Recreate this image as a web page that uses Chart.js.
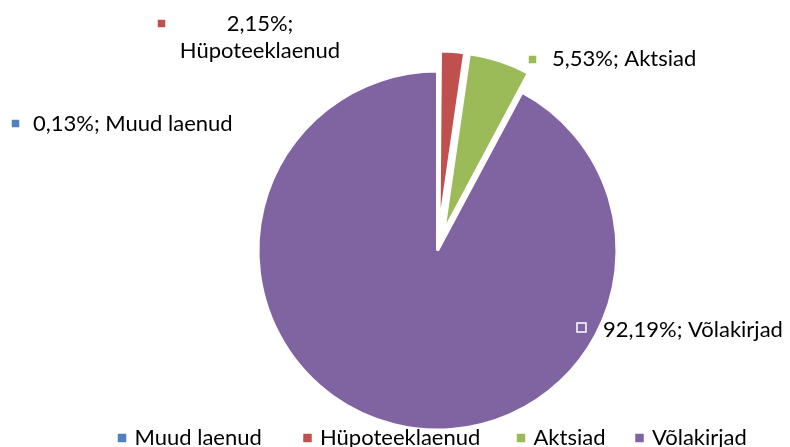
<!DOCTYPE html>
<html><head><meta charset="utf-8">
<script src="https://cdn.jsdelivr.net/npm/chart.js@4.4.1/dist/chart.umd.min.js"></script>
<style>html,body{margin:0;padding:0;background:#fff}</style>
</head><body>
<canvas id="c" width="790" height="447"></canvas>
<script>
// ---- data ----
const categories = ['Muud laenud', 'Hüpoteeklaenud', 'Aktsiad', 'Võlakirjad'];
const shares = [0.13, 2.15, 5.53, 92.19];
const colors = ['#4F81BD', '#C0504D', '#9BBB59', '#8064A2'];

// ---- style ----
const FONT = '22px Lato';
const TEXT_COLOR = '#000';
const EXPLODE_PX = [20, 20, 20, 0];
const pct = v => v.toFixed(2).replace('.', ',') + '%';

// label placement (style): marker box, text anchor
const labelLayout = [
  {mx: 11, my: 119, tx: 33, ty: 131, align: 'left', split: false},
  {mx: 157, my: 19, tx: 260, ty: 31, align: 'center', split: true, lh: 27},
  {mx: 528, my: 55, tx: 552, ty: 66, align: 'left', split: false},
  {mx: 577, my: 323, tx: 603, ty: 337, align: 'left', split: false}
];
// legend entry left edges (style)
const legendX = [117, 302.5, 516, 634.5];
const LEGEND_BASE = 445;

function marker(ctx, x, y, s, color) {
  ctx.fillStyle = color;
  ctx.fillRect(x, y, s, s);
  ctx.strokeStyle = '#fff';
  ctx.lineWidth = 1.5;
  ctx.strokeRect(x, y, s, s);
}

const explodePlugin = {
  id: 'explode',
  beforeDatasetDraw(chart, args) {
    args.meta.data.forEach((arc, i) => {
      const d = EXPLODE_PX[i] || 0;
      arc._ox = arc.x; arc._oy = arc.y;
      if (!d) return;
      const mid = (arc.startAngle + arc.endAngle) / 2;
      arc.x += d * Math.cos(mid);
      arc.y += d * Math.sin(mid);
    });
  },
  afterDatasetDraw(chart, args) {
    args.meta.data.forEach(arc => { arc.x = arc._ox; arc.y = arc._oy; });
  }
};

const labelPlugin = {
  id: 'sliceLabels',
  afterDraw(chart) {
    const ctx = chart.ctx;
    ctx.save();
    ctx.font = FONT;
    ctx.textBaseline = 'alphabetic';
    categories.forEach((cat, i) => {
      const L = labelLayout[i];
      marker(ctx, L.mx, L.my, 9, colors[i]);
      ctx.fillStyle = TEXT_COLOR;
      ctx.textAlign = L.align;
      if (L.split) {
        ctx.fillText(pct(shares[i]) + ';', L.tx, L.ty);
        ctx.fillText(cat, L.tx, L.ty + L.lh);
      } else {
        ctx.fillText(pct(shares[i]) + '; ' + cat, L.tx, L.ty);
      }
    });
    ctx.restore();
  }
};

const legendPlugin = {
  id: 'bottomLegend',
  afterDraw(chart) {
    const ctx = chart.ctx;
    ctx.save();
    ctx.font = FONT;
    ctx.textBaseline = 'alphabetic';
    ctx.textAlign = 'left';
    const box = 10, gapBox = 7.5;
    categories.forEach((c, i) => {
      const x = legendX[i];
      marker(ctx, x, LEGEND_BASE - 12, box, colors[i]);
      ctx.fillStyle = TEXT_COLOR;
      ctx.fillText(c, x + box + gapBox, LEGEND_BASE);
    });
    ctx.restore();
  }
};

new Chart(document.getElementById('c'), {
  type: 'pie',
  data: {
    labels: categories,
    datasets: [{
      data: shares,
      backgroundColor: colors,
      borderColor: '#fff',
      borderWidth: 3
    }]
  },
  options: {
    responsive: false,
    animation: false,
    events: [],
    radius: 179.5,
    layout: {padding: {left: 85, right: 0, top: 54, bottom: 0}},
    plugins: {legend: {display: false}, tooltip: {enabled: false}}
  },
  plugins: [explodePlugin, labelPlugin, legendPlugin]
});
</script>
</body></html>
